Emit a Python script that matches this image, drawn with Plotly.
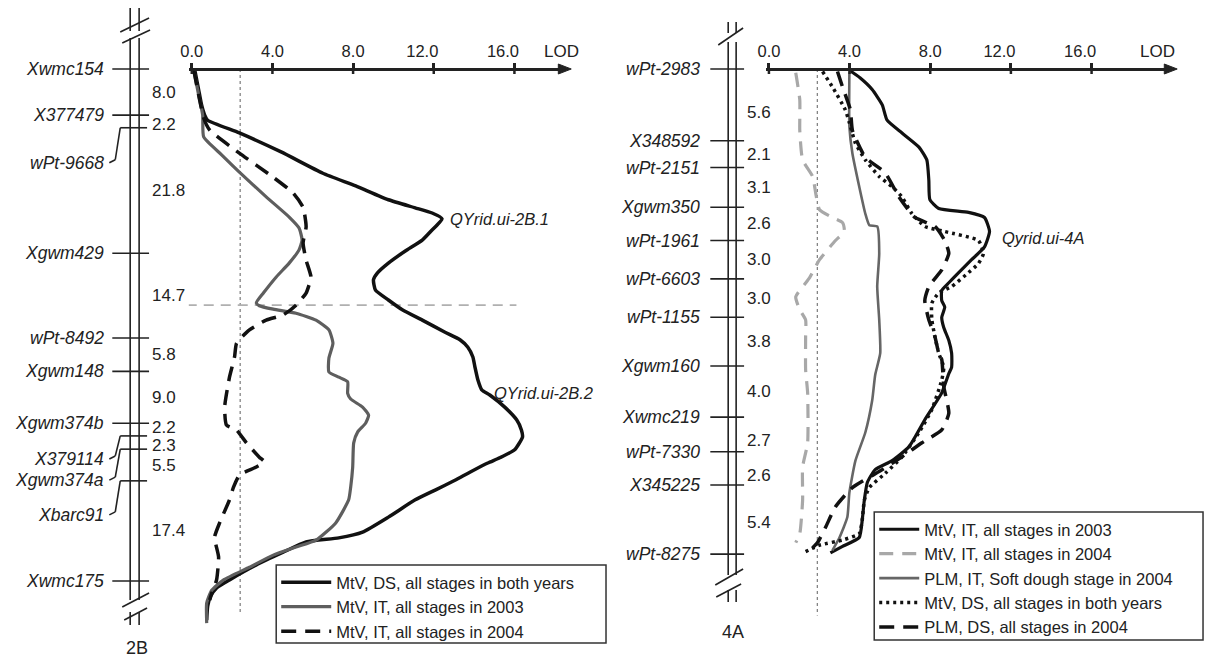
import plotly.graph_objects as go
from itertools import accumulate

W, H = 1207, 660
FONT = "Arial, 'Liberation Sans', Helvetica, sans-serif"
INK = "#222222"
NB = "\u00a0"

# ---------------- linkage maps ----------------
markers_2b = ["Xwmc154", "X377479", "wPt-9668", "Xgwm429", "wPt-8492", "Xgwm148",
              "Xgwm374b", "X379114", "Xgwm374a", "Xbarc91", "Xwmc175"]
intervals_2b = [8.0, 2.2, 21.8, 14.7, 5.8, 9.0, 2.2, 2.3, 5.5, 17.4]

markers_4a = ["wPt-2983", "X348592", "wPt-2151", "Xgwm350", "wPt-1961", "wPt-6603",
              "wPt-1155", "Xgwm160", "Xwmc219", "wPt-7330", "X345225", "wPt-8275"]
intervals_4a = [5.6, 2.1, 3.1, 2.6, 3.0, 3.0, 3.8, 4.0, 2.7, 2.6, 5.4]

pos_2b = [0.0] + list(accumulate(intervals_2b))
pos_4a = [0.0] + list(accumulate(intervals_4a))

lod_ticks = [0, 4, 8, 12, 16]
lod_ticktext = ["0.0", "4.0", "8.0", "12.0", "16.0"]
lod_threshold = 2.4
split_cm_2b = 41.0

# ---------------- LOD profiles, chromosome 2B ----------------
cm_2b_ds = [0.2, 3.6, 6.3, 8.0, 8.9, 11.1, 14.4, 18.1, 20.3, 22.7, 24.1, 25.0, 26.0, 28.3,
            29.7, 31.6, 33.7, 35.4, 36.6, 38.4, 40.1, 41.8, 43.6, 45.7, 47.0, 48.3, 50.0,
            51.7, 54.0, 55.7, 56.6, 58.7, 60.9, 62.7, 63.9, 66.1, 67.5, 68.4, 70.0, 71.4,
            73.1, 74.8, 77.8, 80.4, 81.4, 82.1, 83.9, 86.1, 88.7, 90.1, 91.5, 93.2, 95.7]
lod_2b_ds = [0.15, 0.34, 0.49, 0.64, 0.79, 2.36, 4.43, 6.50, 8.13, 9.75, 11.08, 11.92, 12.41,
             11.82, 11.43, 10.59, 9.75, 9.21, 9.01, 9.11, 9.75, 10.44, 11.43, 12.56, 13.30,
             13.69, 13.94, 14.04, 14.19, 14.38, 14.78, 15.52, 16.11, 16.35, 16.40, 16.01,
             15.27, 14.68, 13.79, 13.05, 12.07, 11.08, 9.75, 8.47, 7.29, 5.67, 4.53, 3.20,
             1.87, 1.23, 0.94, 0.79, 0.74]

cm_2b_it03 = [0.2, 4.5, 8.0, 11.8, 14.9, 17.9, 22.2, 25.7, 27.6, 29.7, 31.4, 33.7, 36.1,
              38.9, 40.6, 41.1, 41.7, 42.4, 43.6, 45.3, 47.6, 50.2, 52.6, 53.5, 54.3, 56.3,
              57.3, 58.7, 60.1, 61.5, 63.0, 64.9, 69.1, 72.6, 74.8, 78.8, 81.8, 83.0, 84.4,
              86.5, 88.7, 90.5, 92.7, 96.2]
lod_2b_it03 = [0.10, 0.34, 0.54, 0.59, 1.48, 2.36, 3.69, 4.83, 5.32, 5.47, 5.32, 4.83, 4.19,
               3.55, 3.20, 3.35, 4.04, 5.17, 6.16, 6.80, 7.00, 6.80, 6.80, 7.29, 7.73, 7.73,
               7.88, 8.47, 8.77, 8.62, 8.23, 8.03, 7.98, 7.88, 7.78, 7.14, 6.16, 5.17, 4.04,
               2.86, 1.58, 0.99, 0.74, 0.74]

cm_2b_it04 = [0.2, 4.5, 8.5, 10.6, 14.6, 18.8, 21.5, 24.0, 27.4, 30.2, 33.2, 36.1, 38.9,
              41.0, 42.7, 43.6, 45.3, 47.6, 50.0, 53.5, 58.7, 61.8, 62.7, 64.9, 67.4, 68.2,
              69.1, 70.5, 72.6, 74.8, 78.8, 81.3, 84.7, 88.7, 91.0, 92.2]
lod_2b_it04 = [0.10, 0.34, 0.59, 0.89, 2.36, 4.04, 5.02, 5.52, 5.67, 5.52, 5.67, 5.91, 5.67,
               5.17, 4.53, 3.69, 2.86, 2.22, 2.12, 1.87, 1.63, 1.72, 2.22, 2.71, 3.35, 3.60,
               3.20, 2.36, 2.07, 1.87, 1.38, 1.13, 1.33, 1.23, 0.99, 0.89]

# ---------------- LOD profiles, chromosome 4A ----------------
cm_4a_it03 = [0.1, 0.7, 1.6, 2.8, 4.0, 5.0, 6.1, 7.1, 8.7, 10.2, 10.9, 11.2, 11.6, 12.7,
              13.9, 14.9, 15.9, 16.7, 17.3, 18.1, 18.6, 19.4, 20.2, 21.2, 22.2, 23.3, 23.8,
              25.3, 27.4, 29.5, 30.6, 31.3, 32.3, 33.7, 35.2, 36.6, 37.3, 37.8]
lod_4a_it03 = [3.99, 4.53, 5.12, 5.62, 5.86, 6.60, 7.44, 7.83, 7.93, 7.98, 8.42, 9.90, 10.69,
               10.94, 10.69, 10.05, 9.41, 8.92, 8.57, 8.57, 8.72, 8.57, 8.67, 8.92, 9.06, 9.06,
               8.92, 8.57, 7.73, 6.95, 6.11, 5.27, 4.88, 4.73, 4.63, 4.48, 3.65, 3.05]

cm_4a_it04 = [0.3, 2.4, 4.8, 7.1, 8.4, 9.7, 11.0, 11.6, 12.0, 12.7, 13.4, 14.9, 16.3, 17.8,
              18.8, 19.6, 20.9, 23.5, 25.3, 29.2, 31.1, 33.7, 36.3, 37.0]
lod_4a_it04 = [1.33, 1.53, 1.53, 1.67, 2.17, 2.32, 2.51, 3.15, 3.65, 3.74, 3.30, 2.51, 2.02,
               1.33, 1.53, 1.82, 1.82, 1.82, 1.92, 1.92, 1.67, 1.67, 1.53, 1.33]

cm_4a_plm_it = [0.2, 4.5, 6.6, 9.2, 11.3, 12.2, 12.3, 14.4, 17.0, 19.6, 22.2, 23.9, 25.9,
                28.4, 30.6, 33.1, 35.0, 36.6, 37.6]
lod_4a_plm_it = [3.99, 3.99, 4.14, 4.48, 4.78, 4.98, 5.37, 5.47, 5.37, 5.47, 5.52, 5.27, 5.12,
                 4.78, 4.29, 3.99, 3.89, 3.50, 3.15]

cm_4a_ds = [0.2, 1.4, 3.2, 4.2, 5.8, 7.1, 8.4, 9.2, 10.0, 11.3, 12.3, 12.7, 13.4, 14.4, 15.2,
            15.9, 17.0, 17.5, 18.3, 19.6, 20.9, 22.2, 23.3, 24.3, 26.6, 28.4, 30.3, 31.6,
            32.7, 33.7, 35.2, 36.3, 36.8, 37.2, 37.7]
lod_4a_ds = [2.66, 3.15, 3.79, 3.99, 4.29, 4.78, 5.47, 6.11, 6.60, 7.09, 7.73, 8.72, 10.39,
             10.64, 10.39, 9.90, 9.06, 8.42, 8.08, 8.08, 8.23, 8.42, 8.67, 8.57, 8.08, 7.44,
             6.60, 5.76, 4.98, 4.73, 4.63, 4.48, 3.65, 2.51, 1.82]

cm_4a_plm_ds = [0.2, 1.4, 3.2, 4.8, 6.9, 8.1, 10.0, 11.6, 12.3, 13.4, 14.4, 15.7, 17.0, 18.1,
                19.6, 20.9, 22.2, 22.7, 24.8, 26.9, 28.2, 29.2, 30.3, 31.3, 32.7, 34.2, 35.8,
                37.0, 37.4]
lod_4a_plm_ds = [3.40, 3.65, 4.04, 4.14, 4.78, 5.76, 6.45, 7.24, 8.23, 8.72, 8.92, 8.57, 7.93,
                 7.73, 7.93, 8.23, 8.42, 8.57, 8.67, 8.92, 8.57, 7.59, 6.60, 5.62, 4.14, 3.30,
                 2.81, 2.41, 2.17]

# ---------------- page geometry (pixels) ----------------
Y0 = 69            # row of the LOD axis and of the first marker
CM_PX_2B = 5.76    # pixels per cM on 2B
CM_PX_4A = 12.8    # pixels per cM on 4A
LOD_PX = 20.3      # pixels per LOD unit
X0_2B, X0_4A = 185, 766
AX_END_2B, AX_END_4A = 556, 1166
LEGEND_BOX_2B = (270, 565, 602, 643)
LEGEND_BOX_4A = (872, 512, 1203, 640)


def fx(x):
    return x / W


def fy(y):
    return 1 - y / H


def line(x0, y0, x1, y1, w=1.6, color=INK, xref="paper", yref="paper", dash="solid"):
    if xref == "paper":
        x0, x1 = fx(x0), fx(x1)
    if yref == "paper":
        y0, y1 = fy(y0), fy(y1)
    return dict(type="line", xref=xref, yref=yref, x0=x0, y0=y0, x1=x1, y1=y1,
                line=dict(color=color, width=w, dash=dash), layer="above")


fig = go.Figure()

LEG = "legend"
LEG2 = "legend2"
traces = [
    (cm_2b_ds, lod_2b_ds, "MtV, DS, all stages in both years", "#111111", 3.5, "solid", "x", "y", LEG),
    (cm_2b_it03, lod_2b_it03, "MtV, IT, all stages in 2003", "#5e5e5e", 3.2, "solid", "x", "y", LEG),
    (cm_2b_it04, lod_2b_it04, "MtV, IT, all stages in 2004", "#111111", 3.5, "15px,9px", "x", "y", LEG),
    (cm_4a_it03, lod_4a_it03, "MtV, IT, all stages in 2003", "#111111", 3.2, "solid", "x2", "y2", LEG2),
    (cm_4a_it04, lod_4a_it04, "MtV, IT, all stages in 2004", "#a8a8a8", 3.2, "14px,9px", "x2", "y2", LEG2),
    (cm_4a_plm_it, lod_4a_plm_it, "PLM, IT, Soft dough stage in 2004", "#666666", 2.6, "solid", "x2", "y2", LEG2),
    (cm_4a_ds, lod_4a_ds, "MtV, DS, all stages in both years", "#111111", 3.5, "3px,4px", "x2", "y2", LEG2),
    (cm_4a_plm_ds, lod_4a_plm_ds, "PLM, DS, all stages in 2004", "#111111", 3.5, "15px,9px", "x2", "y2", LEG2),
]
for cm, lod, name, color, width, dash, xa, ya, leg in traces:
    fig.add_trace(go.Scatter(x=lod, y=cm, mode="lines", name=name, xaxis=xa, yaxis=ya,
                             legend=leg, hoverinfo="skip",
                             line=dict(color=color, width=width, dash=dash,
                                       shape="spline", smoothing=0.5)))

shapes = []
annotations = []

# ---- legend frames ----
for bx0, by0, bx1, by1 in (LEGEND_BOX_2B, LEGEND_BOX_4A):
    shapes.append(dict(type="rect", xref="paper", yref="paper", x0=fx(bx0), x1=fx(bx1),
                       y0=fy(by0), y1=fy(by1), fillcolor="white",
                       line=dict(color="#333333", width=1.5), layer="above"))

# ---- LOD axes: crossing ticks, arrow heads, axis titles ----
for xa, end, title_right in (("x", AX_END_2B, 577), ("x2", AX_END_4A, 1177)):
    for t in lod_ticks:
        shapes.append(dict(type="line", xref=xa, yref="paper", x0=t, x1=t,
                           y0=fy(Y0), y1=fy(Y0 + 5), line=dict(color=INK, width=2.5)))
    shapes.append(dict(type="path", xref="paper", yref="paper",
                       path=f"M{fx(end - 2)},{fy(Y0 - 5)} L{fx(end + 11)},{fy(Y0)} L{fx(end - 2)},{fy(Y0 + 5)} Z",
                       fillcolor=INK, line=dict(color=INK, width=1)))
    annotations.append(dict(xref="paper", yref="paper", x=fx(title_right), y=fy(Y0 - 18),
                            xanchor="right", yanchor="middle", text="LOD", showarrow=False,
                            font=dict(family=FONT, size=17, color=INK)))

# ---- significance thresholds ----
shapes.append(dict(type="line", xref="x", yref="y", x0=lod_threshold, x1=lod_threshold,
                   y0=0, y1=94.4, line=dict(color="#7a7a7a", width=1.2, dash="dot"), layer="below"))
shapes.append(dict(type="line", xref="x2", yref="y2", x0=lod_threshold, x1=lod_threshold,
                   y0=0, y1=42.7, line=dict(color="#7a7a7a", width=1.2, dash="dot"), layer="below"))
shapes.append(dict(type="line", xref="x", yref="y", x0=-0.25, x1=16.1, y0=split_cm_2b,
                   y1=split_cm_2b, line=dict(color="#b0b0b0", width=1.6, dash="10px,7px"),
                   layer="below"))

# ---- chromosome 2B drawing ----
for rx in (123, 132):
    shapes += [line(rx, 8, rx, 31), line(rx, 38, rx, 600), line(rx, 612, rx, 625)]
shapes += [line(113, 32, 142, 18), line(115, 43, 143, 30),
           line(115, 607, 142, 593), line(117, 620, 140, 608)]

# ---- chromosome 4A drawing ----
for rx in (725, 733):
    shapes += [line(rx, 22, rx, 33), line(rx, 42, rx, 575), line(rx, 590, rx, 602)]
shapes += [line(715, 45, 740, 28), line(712, 585, 740, 569), line(713, 597, 738, 584)]

label_shift_2b = {"wPt-9668": 35, "X379114": 23, "Xgwm374a": 31, "Xbarc91": 34}
# vertical nudges (px, downwards) for crowded interval labels
dist_nudge_2b = {1: 3, 6: -2, 7: 3}
dist_nudge_4a = {0: 8, 8: 6, 9: 7, 10: 3}


def marker_px(cm, scale):
    return Y0 + cm * scale


mfont = dict(family=FONT, size=17.5, color=INK, style="italic")
dfont = dict(family=FONT, size=17, color=INK)

for name, cm in zip(markers_2b, pos_2b):
    my = marker_px(cm, CM_PX_2B)
    shift = label_shift_2b.get(name, 0)
    if shift:
        ly = my + shift
        shapes += [line(113, my, 140, my), line(102, ly, 108, ly - 3), line(108, ly - 3, 113, my)]
    else:
        ly = my
        shapes.append(line(105, my, 142, my))
    annotations.append(dict(xref="paper", yref="paper", x=fx(99), y=fy(ly), xanchor="right",
                            yanchor="middle", text=name, showarrow=False, font=mfont))

for i, (a, b, d) in enumerate(zip(pos_2b[:-1], pos_2b[1:], intervals_2b)):
    annotations.append(dict(xref="paper", yref="y", x=fx(143), y=(a + b) / 2, xanchor="left",
                            yanchor="middle", yshift=-dist_nudge_2b.get(i, 0),
                            text=f"{d:.1f}", showarrow=False, font=dfont))

for name, cm in zip(markers_4a, pos_4a):
    my = marker_px(cm, CM_PX_4A)
    shapes.append(line(707, my, 741, my))
    annotations.append(dict(xref="paper", yref="paper", x=fx(699), y=fy(my), xanchor="right",
                            yanchor="middle", text=name, showarrow=False, font=mfont))

for i, (a, b, d) in enumerate(zip(pos_4a[:-1], pos_4a[1:], intervals_4a)):
    annotations.append(dict(xref="paper", yref="y2", x=fx(742), y=(a + b) / 2, xanchor="left",
                            yanchor="middle", yshift=-dist_nudge_4a.get(i, 0),
                            text=f"{d:.1f}", showarrow=False, font=dfont))

annotations += [
    dict(xref="paper", yref="paper", x=fx(130), y=fy(648), xanchor="center", yanchor="middle",
         text="2B", showarrow=False, font=dict(family=FONT, size=18, color=INK)),
    dict(xref="paper", yref="paper", x=fx(730), y=fy(632), xanchor="center", yanchor="middle",
         text="4A", showarrow=False, font=dict(family=FONT, size=18, color=INK)),
]

# ---- QTL names next to the peaks ----
qfont = dict(family=FONT, size=16.5, color=INK, style="italic")
peak1 = max(lod_2b_ds[:20])
peak4a = max(lod_4a_it03)
annotations += [
    dict(xref="x", yref="y", x=peak1, y=cm_2b_ds[lod_2b_ds.index(peak1)],
         xanchor="left", yanchor="middle", xshift=6, text="QYrid.ui-2B.1", showarrow=False, font=qfont),
    dict(xref="x", yref="y", x=14.9, y=56.3, xanchor="left", yanchor="middle",
         text="QYrid.ui-2B.2", showarrow=False, font=qfont),
    dict(xref="x2", yref="y2", x=peak4a, y=cm_4a_it03[lod_4a_it03.index(peak4a)] + 0.5,
         xanchor="left", yanchor="middle", xshift=10, text="Qyrid.ui-4A", showarrow=False, font=qfont),
]

# two-digit labels sit slightly left of their ticks
tick_labels = [t if len(t) < 4 else t + NB * 5 for t in lod_ticktext]

xcommon = dict(side="top", anchor="free", position=fy(Y0), showgrid=False, zeroline=False,
               showline=True, linecolor=INK, linewidth=2.5, ticks="outside", ticklen=5,
               tickwidth=2.5, tickcolor=INK, tickvals=lod_ticks, ticktext=tick_labels,
               tickfont=dict(family=FONT, size=16.5, color=INK), fixedrange=True)

legfont = dict(family=FONT, size=16.5, color=INK)
fig.update_layout(
    width=W, height=H, autosize=False,
    margin=dict(l=0, r=0, t=0, b=0),
    paper_bgcolor="white", plot_bgcolor="white",
    xaxis=dict(domain=[fx(182), fx(AX_END_2B)],
               range=[(182 - X0_2B) / LOD_PX, (AX_END_2B - X0_2B) / LOD_PX], **xcommon),
    xaxis2=dict(domain=[fx(763), fx(AX_END_4A)],
                range=[(763 - X0_4A) / LOD_PX, (AX_END_4A - X0_4A) / LOD_PX], **xcommon),
    yaxis=dict(domain=[0, 1], anchor="x", visible=False,
               range=[(H - Y0) / CM_PX_2B, -Y0 / CM_PX_2B]),
    yaxis2=dict(domain=[0, 1], anchor="x2", visible=False,
                range=[(H - Y0) / CM_PX_4A, -Y0 / CM_PX_4A]),
    legend=dict(x=fx(270), y=fy(565), xanchor="left", yanchor="top",
                bgcolor="rgba(0,0,0,0)", borderwidth=0, font=legfont, itemwidth=50,
                tracegroupgap=0),
    legend2=dict(x=fx(872), y=fy(512), xanchor="left", yanchor="top",
                 bgcolor="rgba(0,0,0,0)", borderwidth=0, font=legfont, itemwidth=40,
                 tracegroupgap=0),
    shapes=shapes,
    annotations=annotations,
    showlegend=True,
)

fig.write_html("out.html")
